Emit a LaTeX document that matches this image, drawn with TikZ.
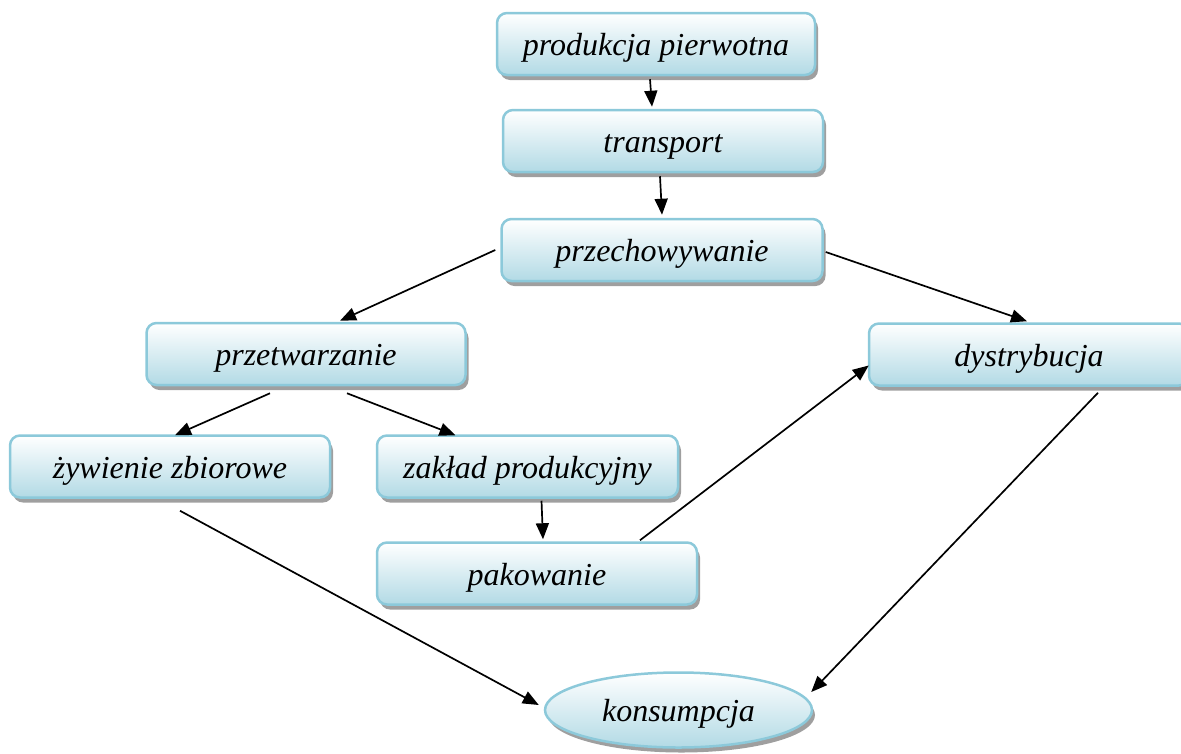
\documentclass[tikz,border=0pt]{standalone}
\usepackage{fontspec}
\setmainfont{Liberation Serif}
\usetikzlibrary{shapes.geometric,shadows,arrows.meta}
\definecolor{boxline}{HTML}{8CC9DA}
\definecolor{boxbot}{HTML}{B2DAE5}
\begin{document}
\begin{tikzpicture}[x=1pt,y=-1pt,
  stagebox/.style={rectangle,rounded corners=10pt,draw=boxline,line width=2.5pt,
    top color=white,bottom color=boxbot,minimum width=#1,minimum height=62pt,inner sep=0pt,
    text height=27pt,text depth=4pt,
    font=\fontsize{32}{38}\selectfont\itshape,
    drop shadow={shadow xshift=3pt,shadow yshift=-5pt,fill=gray!75,opacity=1}},
  stagebox/.default=320pt,
  endbox/.style={ellipse,draw=boxline,line width=2.5pt,
    top color=white,bottom color=boxbot,minimum width=267pt,minimum height=75pt,inner sep=0pt,
    text height=27pt,text depth=4pt,
    font=\fontsize{32}{38}\selectfont\itshape,
    drop shadow={shadow xshift=3pt,shadow yshift=-5pt,fill=gray!75,opacity=1}},
  flow/.style={line width=1.7pt,-{Triangle[length=16pt,width=13pt]}}]
\useasboundingbox (0,0) rectangle (1181,753);
\node[stagebox=318pt] (prod) at (656,44) {produkcja pierwotna};
\node[stagebox] (trans) at (663,141) {transport};
\node[stagebox=321pt] (przech) at (662,250) {przechowywanie};
\node[stagebox=319pt] (przetw) at (306,354) {przetwarzanie};
\node[stagebox] (dystr) at (1029,354.5) {dystrybucja};
\node[stagebox] (zyw) at (170,466.5) {żywienie zbiorowe};
\node[stagebox=301pt] (zaklad) at (527.5,466.5) {zakład produkcyjny};
\node[stagebox] (pak) at (537,573.5) {pakowanie};
\node[endbox] (kons) at (678.5,710) {konsumpcja};

\draw[flow] ([xshift=-6pt,yshift=-3pt]prod.south) -- ([xshift=-11pt,yshift=2pt]trans.north);
\draw[flow] ([xshift=-3pt,yshift=-3pt]trans.south) -- ([yshift=3pt]przech.north);
\draw[flow] ([xshift=-5pt]przech.west) -- ([xshift=34pt,yshift=1pt]przetw.north);
\draw[flow] ([xshift=2pt,yshift=-2pt]przech.east) -- ([xshift=-2pt,yshift=1pt]dystr.north);
\draw[flow] ([xshift=-36pt,yshift=-7pt]przetw.south) -- ([xshift=5pt,yshift=-1pt]zyw.north);
\draw[flow] ([xshift=41pt,yshift=-7pt]przetw.south) -- ([xshift=-72pt,yshift=-1pt]zaklad.north);
\draw[flow] ([xshift=14pt,yshift=-2pt]zaklad.south) -- ([xshift=6pt,yshift=2pt]pak.north);
\draw[flow] ([xshift=103pt,yshift=1pt]pak.north) -- ([xshift=1pt,yshift=-11pt]dystr.west);
\draw[flow] ([xshift=10pt,yshift=-12pt]zyw.south) -- ([xshift=-5pt,yshift=5pt]kons.west);
\draw[flow] ([xshift=69pt,yshift=-6pt]dystr.south) -- ([xshift=-2pt,yshift=18pt]kons.east);
\end{tikzpicture}
\end{document}
